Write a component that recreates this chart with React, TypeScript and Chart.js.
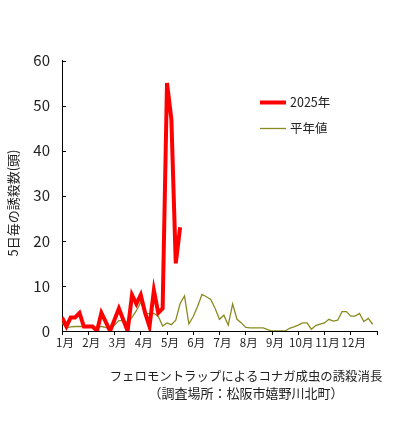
import React, { useEffect, useRef } from 'react';
import { Chart, registerables } from 'chart.js';

Chart.register(...registerables);

const MONTH_LABELS = ['1月', '2月', '3月', '4月', '5月', '6月', '7月', '8月', '9月', '10月', '11月', '12月'];
const PENTADS_PER_MONTH = 6;

// 5-day trap catches, 2025 (pentads from Jan 1)
const SERIES_2025 = [3, 1, 3, 3, 4, 1, 1, 1, 0, 4, 2, 0, 2.5, 5, 2.5, 0, 8, 6, 8, 4, 1, 9, 4, 5, 55, 47, 15, 23];

// normal-year values (平年値)
const SERIES_NORMAL = [
  1.8, 0.7, 0.9, 1, 1, 1, 0.9, 0.8, 0.7, 1, 0.8, 0.4,
  1.3, 2.3, 2.3, 1.9, 3, 4.5, 6.4, 3.9, 3.8, 3.9, 3.3, 1.1,
  1.8, 1.4, 2.4, 6.1, 7.8, 1.6, 3.2, 5.5, 8.1, 7.6, 7.0, 5.0,
  2.6, 3.5, 1.3, 6.0, 2.6, 1.8, 0.8, 0.7, 0.7, 0.7, 0.7, 0.3,
  0, 0, 0, 0, 0.6, 0.9, 1.3, 1.8, 1.8, 0.4, 1.2, 1.5,
  1.8, 2.6, 2.2, 2.4, 4.3, 4.3, 3.3, 3.3, 3.9, 2.1, 2.8, 1.5,
];

const Y_MIN = 0;
const Y_MAX = 60;
const Y_STEP = 10;

const SERIES_NAMES = ['2025年', '平年値'];
const Y_TITLE = '5日毎の誘殺数(頭)';
const CAPTION_LINES = ['フェロモントラップによるコナガ成虫の誘殺消長', '（調査場所：松阪市嬉野川北町）'];

const FONT = "'Noto Sans CJK JP', 'Noto Sans', sans-serif";
const TEXT_COLOR = '#222';
const RED = '#ff0000';
const OLIVE = '#8a8a22';

const overlayPlugin = {
  id: 'overlay',
  afterDraw(chart: any) {
    const { ctx, chartArea, scales } = chart;
    const y = scales.y;
    ctx.save();
    // inward tick marks on the y axis
    ctx.strokeStyle = '#000';
    ctx.lineWidth = 1;
    for (let v = Y_MIN; v <= Y_MAX; v += Y_STEP) {
      const py = Math.round(y.getPixelForValue(v)) + 0.5;
      ctx.beginPath();
      ctx.moveTo(chartArea.left, py);
      ctx.lineTo(chartArea.left + 4, py);
      ctx.stroke();
    }
    // y-axis title
    ctx.fillStyle = TEXT_COLOR;
    ctx.font = `13px ${FONT}`;
    ctx.textAlign = 'center';
    ctx.textBaseline = 'middle';
    ctx.save();
    ctx.translate(13, 203);
    ctx.rotate(-Math.PI / 2);
    ctx.fillText(Y_TITLE, 0, 0);
    ctx.restore();

    // legend
    const lx = 260;
    const items = [
      { name: SERIES_NAMES[0], color: RED, width: 4, y: 102.5 },
      { name: SERIES_NAMES[1], color: OLIVE, width: 1.3, y: 128.5 },
    ];
    ctx.font = `12.5px ${FONT}`;
    ctx.textAlign = 'left';
    items.forEach((it) => {
      ctx.strokeStyle = it.color;
      ctx.lineWidth = it.width;
      ctx.beginPath();
      ctx.moveTo(lx, it.y);
      ctx.lineTo(lx + 26, it.y);
      ctx.stroke();
      ctx.fillStyle = TEXT_COLOR;
      ctx.fillText(it.name, lx + 30, it.y);
    });

    // caption
    ctx.textAlign = 'center';
    ctx.font = `12.4px ${FONT}`;
    ctx.fillText(CAPTION_LINES[0], 246, 376);
    ctx.font = `13px ${FONT}`;
    ctx.fillText(CAPTION_LINES[1], 246, 393);
    ctx.restore();
  },
};

export default function App() {
  const ref = useRef<HTMLCanvasElement>(null);

  useEffect(() => {
    if (!ref.current) return;
    const chart = new Chart(ref.current, {
      type: 'line',
      data: {
        datasets: [
          {
            label: SERIES_NAMES[0],
            data: SERIES_2025.map((v, i) => ({ x: i, y: v })),
            borderColor: RED,
            backgroundColor: RED,
            borderWidth: 4,
            pointRadius: 0,
            tension: 0,
            borderJoinStyle: 'miter',
          },
          {
            label: SERIES_NAMES[1],
            data: SERIES_NORMAL.map((v, i) => ({ x: i, y: v })),
            borderColor: OLIVE,
            backgroundColor: OLIVE,
            borderWidth: 1.3,
            pointRadius: 0,
            tension: 0,
          },
        ],
      },
      options: {
        responsive: false,
        animation: false,
        devicePixelRatio: 1,
        layout: { padding: { top: 60.5, right: 18, left: 0, bottom: 0 } },
        plugins: { legend: { display: false }, tooltip: { enabled: false }, title: { display: false } },
        scales: {
          x: {
            type: 'linear',
            min: 0,
            max: MONTH_LABELS.length * PENTADS_PER_MONTH,
            afterBuildTicks: (s: any) => {
              s.ticks = Array.from({ length: MONTH_LABELS.length + 1 }, (_, k) => ({ value: k * PENTADS_PER_MONTH }));
            },
            afterFit: (s: any) => {
              s.height = 93;
            },
            ticks: {
              autoSkip: false,
              maxRotation: 0,
              padding: 1,
              labelOffset: 3,
              color: TEXT_COLOR,
              font: { family: FONT, size: 11.5 },
              callback: (v: any) => MONTH_LABELS[Math.round(v / PENTADS_PER_MONTH)] ?? '',
            },
            grid: { drawOnChartArea: false, drawTicks: true, tickLength: 4, color: '#000', lineWidth: 1 },
            border: { color: '#000', width: 1 },
          },
          y: {
            min: Y_MIN,
            max: Y_MAX,
            afterFit: (s: any) => {
              s.width = 62;
            },
            ticks: {
              stepSize: Y_STEP,
              padding: 12,
              color: TEXT_COLOR,
              font: { family: FONT, size: 15 },
            },
            grid: { drawOnChartArea: false, drawTicks: false },
            border: { color: '#000', width: 1 },
          },
        },
      },
      plugins: [overlayPlugin],
    } as any);
    return () => chart.destroy();
  }, []);

  return (
    <div style={{ position: 'fixed', left: 0, top: 0, width: 395, height: 424, background: '#fff' }}>
      <canvas ref={ref} width={395} height={424} style={{ display: 'block', width: 395, height: 424 }} />
    </div>
  );
}
